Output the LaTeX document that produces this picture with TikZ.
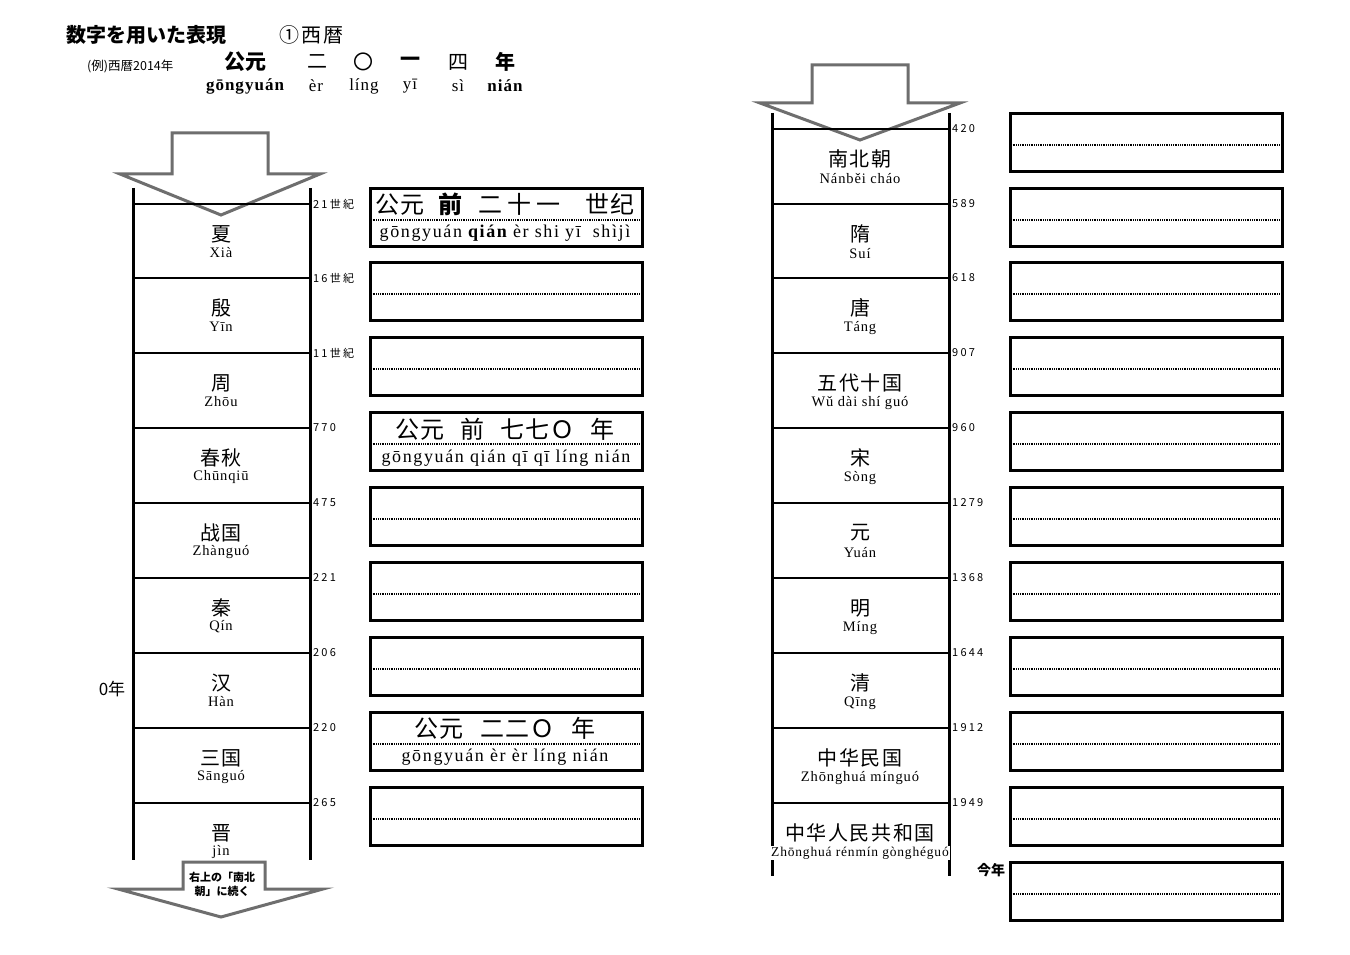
\documentclass[tikz,border=0pt]{standalone}
\usepackage{fontspec}
\setmainfont{Liberation Serif}
\newfontfamily\pyfont[LetterSpace=6]{Liberation Serif}
\newfontfamily\bpyfont[LetterSpace=9]{Liberation Serif}
\newfontfamily\zhfont{Noto Sans CJK SC}
\newfontfamily\zhbox[LetterSpace=5]{Noto Sans CJK SC}
\newfontfamily\zhera[LetterSpace=8]{Noto Sans CJK SC}
\newfontfamily\jpfont{Noto Sans CJK JP}
\newfontfamily\jpwide[LetterSpace=10]{Noto Sans CJK JP}
\newfontfamily\lblfont[LetterSpace=20]{Noto Sans CJK JP}
\definecolor{arrowgray}{HTML}{6E6E6E}
\begin{document}
\begin{tikzpicture}[x=1pt,y=-1pt,
  vline/.style={line width=3pt},
  hline/.style={line width=2.6pt},
  bigarrow/.style={draw=arrowgray,line width=3pt,line join=miter},
  ansbox/.style={draw,line width=2.6pt,minimum width=272pt,minimum height=58pt,inner sep=0pt,anchor=north west},
  dotline/.style={line width=1.3pt,dash pattern=on 1pt off 0.8pt},
  era/.style={font=\zhera\fontsize{20}{20}\selectfont,inner sep=0pt},
  erapy/.style={font=\pyfont\fontsize{14.5}{15}\selectfont,inner sep=1pt,fill=white},
  yrlbl/.style={font=\lblfont\fontsize{11}{11}\selectfont,anchor=west,inner sep=0pt},
  boxzh/.style={font=\zhbox\fontsize{24}{24}\selectfont,inner sep=0pt},
  boxpy/.style={font=\bpyfont\fontsize{18}{18}\selectfont,inner sep=0pt},
  hdzh/.style={font=\zhfont\fontsize{20}{20}\selectfont,inner sep=0pt},
  hdpy/.style={font=\pyfont\fontsize{17}{18}\selectfont,inner sep=0pt}]
\useasboundingbox (0,0) rectangle (1350,955);
\fill[white] (0,0) rectangle (1350,955);

% ---------- header ----------
\node[font=\jpfont\bfseries\fontsize{20}{20}\selectfont,anchor=west,inner sep=0pt] (title) at (66,35) {数字を用いた表現};
\node[font=\jpwide\fontsize{20}{20}\selectfont,anchor=west,inner sep=0pt] (sub) at (279,35) {①西暦};
\node[font=\jpfont\fontsize{12.5}{12.5}\selectfont,anchor=west,inner sep=0pt] (exlbl) at (87,66) {(例)西暦2014年};
\node[hdzh,font=\zhfont\bfseries\fontsize{21}{21}\selectfont] (h1) at (245,62) {公元};
\node[hdzh] (h2) at (317,62) {二};
\node[hdzh] (h3) at (363,62) {〇};
\node[hdzh,font=\zhfont\bfseries\fontsize{20}{20}\selectfont] (h4) at (410,62) {一};
\node[hdzh] (h5) at (458,62) {四};
\node[hdzh,font=\zhfont\bfseries\fontsize{20}{20}\selectfont] (h6) at (505,62) {年};
\node[hdpy,font=\pyfont\bfseries\fontsize{17}{18}\selectfont] (p1) at (245,86) {gōngyuán};
\node[hdpy] (p2) at (316,86) {èr};
\node[hdpy] (p3) at (364,86) {líng};
\node[hdpy] (p4) at (410,86) {yī};
\node[hdpy] (p5) at (458,86) {sì};
\node[hdpy,font=\pyfont\bfseries\fontsize{17}{18}\selectfont] (p6) at (505,86) {nián};

% ---------- left column ----------
\draw[bigarrow] (172,133) -- (268,133) -- (268,174) -- (320,174) -- (221,215) -- (120,174) -- (172,174) -- cycle;
\draw[vline] (133,188) -- (133,860);
\draw[vline] (310,188) -- (310,860);
\foreach \yy/\lab/\nm/\py [count=\i] in {
  204/21世紀/夏/Xià,
  278/16世紀/殷/Yīn,
  353/11世紀/周/Zhōu,
  428/770/春秋/Chūnqiū,
  503/475/战国/Zhànguó,
  578/221/秦/Qín,
  653/206/汉/Hàn,
  728/220/三国/Sānguó,
  803/265/晋/jìn} {
  \draw[hline] (133,\yy) -- (310,\yy);
  \node[yrlbl] (Ly\i) at (313,\yy) {\lab};
  \node[era] (Le\i) at (221,\yy+30) {\nm};
  \node[erapy] (Lp\i) at (221,\yy+49) {\py};
  \node[ansbox] (Lb\i) at (369,\yy-17) {};
  \draw[dotline] ([yshift=-33pt]Lb\i.north west) -- ([yshift=-33pt]Lb\i.north east);
}
\node[font=\jpfont\fontsize{17}{17}\selectfont,inner sep=0pt] (zero) at (112,689) {0年};

% filled example boxes
\node[boxzh] (ex1) at (505,204) {公元\hspace{14pt}{\bfseries 前}\hspace{16pt}二\hspace{5pt}十\hspace{5pt}一\hspace{25pt}世纪};
\node[boxpy] (ex1p) at (505,233) {gōngyuán {\bfseries qián} èr shi yī\hspace{12pt}shìjì};
\node[boxzh] (ex4) at (505,429) {公元\hspace{16pt}前\hspace{16pt}七七Ｏ\hspace{16pt}年};
\node[boxpy] (ex4p) at (506,458) {gōngyuán qián qī qī líng nián};
\node[boxzh] (ex8) at (505,728) {公元\hspace{17pt}二二Ｏ\hspace{17pt}年};
\node[boxpy] (ex8p) at (505,757) {gōngyuán èr èr líng nián};

% bottom arrow
\draw[bigarrow,fill=white] (183,862) -- (265,862) -- (265,889) -- (323,889) -- (221,917) -- (118,889) -- (183,889) -- cycle;
\node[font=\jpfont\bfseries\fontsize{11}{14}\selectfont,align=center,inner sep=0pt] (cont) at (222,884) {右上の「南北\\朝」に続く};

% ---------- right column ----------
\draw[bigarrow] (812,65) -- (908,65) -- (908,103) -- (960,103) -- (860,140) -- (760,103) -- (812,103) -- cycle;
\draw[vline] (772,113) -- (772,876);
\draw[vline] (949,113) -- (949,876);
\foreach \yy/\lab/\nm/\py/\ps [count=\i] in {
  129/420/南北朝/Nánběi cháo/14.5,
  204/589/隋/Suí/14.5,
  278/618/唐/Táng/14.5,
  353/907/五代十国/Wǔ dài shí guó/14.5,
  428/960/宋/Sòng/14.5,
  503/1279/元/Yuán/14.5,
  578/1368/明/Míng/14.5,
  653/1644/清/Qīng/14.5,
  728/1912/中华民国/Zhōnghuá mínguó/14.5,
  803/1949/中华人民共和国/Zhōnghuá rénmín gònghéguó/13.5} {
  \draw[hline] (772,\yy) -- (949,\yy);
  \node[yrlbl] (Ry\i) at (952,\yy) {\lab};
  \node[era] (Re\i) at (860,\yy+30) {\nm};
  \node[erapy,font=\pyfont\fontsize{\ps}{15}\selectfont] (Rp\i) at (860,\yy+50) {\py};
  \node[ansbox] (Rb\i) at (1009,\yy-17) {};
  \draw[dotline] ([yshift=-33pt]Rb\i.north west) -- ([yshift=-33pt]Rb\i.north east);
}
\node[ansbox] (Rb11) at (1009,861) {};
\draw[dotline] ([yshift=-33pt]Rb11.north west) -- ([yshift=-33pt]Rb11.north east);
\node[font=\jpfont\bfseries\fontsize{14}{14}\selectfont,inner sep=0pt] (kotoshi) at (991,870) {今年};
\end{tikzpicture}
\end{document}
